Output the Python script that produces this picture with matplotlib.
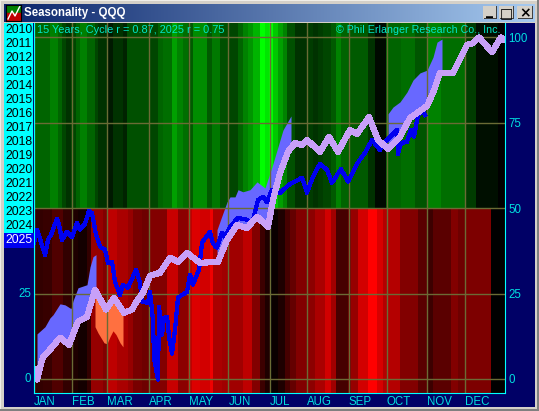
import numpy as np
import matplotlib
matplotlib.use("Agg")
import matplotlib.pyplot as plt
from matplotlib.colors import LinearSegmentedColormap
from matplotlib.patches import Rectangle

plt.rcParams['font.family'] = ['Liberation Sans', 'DejaVu Sans']

W = 539
H = 411

years = [str(y) for y in range(2010, 2026)]
months = ['JAN', 'FEB', 'MAR', 'APR', 'MAY', 'JUN', 'JUL', 'AUG', 'SEP', 'OCT', 'NOV', 'DEC']
month_pos = [0, 37.7, 73.3, 115.3, 154.7, 194.3, 235.5, 273.3, 314.7, 352.7, 393.3, 431.3]

# heat strip above 50 (green) and below 50 (red)
green_edges = [0, 16, 24, 28, 32, 37, 42, 46, 53, 61, 64, 73, 79, 89, 93, 115, 124, 129, 138, 143, 149, 154, 159,
               173, 178, 186, 194, 204, 209, 214, 219, 226, 231, 235, 239, 244, 249, 253, 261, 273, 279, 284, 289,
               297, 302, 307, 314, 334, 341, 352, 367, 381, 393, 407, 431, 442, 464, 471]
green_vals = [100, 128, 100, 70, 50, 70, 100, 128, 100, 70, 50, 25, 50, 35, 80, 70, 100, 110, 160, 130, 110, 90,
              140, 90, 120, 80, 70, 100, 130, 150, 180, 255, 230, 255, 200, 160, 130, 80, 50, 60, 50, 60, 70,
              90, 130, 100, 90, 50, 10, 100, 110, 85, 130, 110, 60, 15, 0]
red_edges = [0, 9, 18, 29, 37, 44, 53, 57, 69, 73, 83, 94, 99, 108, 115, 133, 144, 154, 158, 166, 176, 179, 188,
             209, 218, 226, 231, 236, 238, 244, 251, 256, 262, 273, 281, 291, 297, 302, 314, 317, 324, 334, 343,
             349, 366, 384, 393, 399, 417, 424, 431, 457, 471]
red_vals = [50, 55, 80, 50, 30, 20, 50, 150, 130, 190, 170, 150, 120, 110, 130, 200, 140, 190, 220, 210, 240, 170,
            160, 190, 130, 60, 30, 0, 10, 30, 70, 100, 130, 140, 170, 210, 160, 70, 110, 150, 210, 255, 215,
            180, 130, 90, 60, 90, 130, 110, 125, 0]

# seasonal cycle
cycle_x = [0, 3, 6, 9, 16, 26, 35, 44, 53, 61, 72, 80, 90, 98, 103, 109, 116, 126, 136, 144, 153, 166, 184, 193, 203,
           213, 223, 234, 239, 246, 254, 261, 268, 273, 286, 295, 304, 316, 323, 335, 344, 354, 366, 376, 393, 399,
           406, 419, 433, 439, 445, 458, 467, 471]
cycle_y = [3.6, -0.2, 3.3, 6.5, 8.6, 12.1, 10.0, 16.8, 18.2, 26.1, 20.3, 23.8, 19.4, 20.3, 22.9, 25.2, 30.2, 31.1,
           35.5, 34.3, 36.9, 34.0, 34.3, 40.7, 45.1, 44.2, 47.5, 44.5, 52.4, 60.3, 66.5, 69.1, 68.5, 70.0, 66.5, 70.9,
           66.5, 72.9, 71.7, 76.7, 70.0, 67.3, 70.9, 76.4, 79.9, 83.7, 89.6, 89.6, 97.8, 98.3, 100, 95.7, 100, 98.9]

# 2025 so far
ytd_x = [0, 3, 7, 11, 14, 17, 23, 25, 28, 33, 38, 43, 46, 51, 55, 58, 62, 66, 71, 74, 78, 81, 86, 89, 94, 102, 106,
         108, 114, 116, 119, 120, 124, 125, 128, 130, 133, 135, 138, 141, 144, 153, 156, 159, 165, 168, 176, 179,
         183, 188, 191, 196, 204, 213, 218, 224, 229, 233, 238, 246, 256, 268, 273, 279, 286, 293, 298, 307, 314,
         323, 331, 338, 346, 353, 363, 364, 367, 373, 377, 380, 384, 389, 391]
ytd_y = [39.9, 43.7, 40.1, 36.3, 40.7, 42.2, 46.9, 45.1, 40.7, 43.1, 41.6, 45.7, 43.7, 45.4, 49.2, 48.6, 42.2, 38.7,
         37.8, 34.0, 34.3, 28.5, 24.6, 27.6, 26.7, 32.0, 28.2, 22.6, 22.3, 25.5, 17.3, 6.2, -0.2, 21.1, 13.0, 17.9,
         18.2, 12.4, 7.4, 14.4, 23.8, 25.5, 30.5, 27.6, 32.0, 39.9, 43.1, 39.6, 38.4, 42.8, 41.6, 44.5, 47.2, 46.6,
         45.4, 52.4, 53.3, 51.8, 55.4, 54.5, 57.1, 58.9, 54.5, 59.2, 63.0, 61.2, 57.4, 61.5, 57.7, 63.0, 66.2, 70.0,
         67.0, 70.0, 72.9, 65.9, 69.1, 69.4, 72.9, 70.9, 77.3, 78.2, 77.3]

# blue bands (stronger than cycle) and orange band (weaker)
band1_x = [3, 11, 16, 19, 26, 31, 37, 39, 44, 53, 56, 59, 62]
band1_hi = [13.2, 15.3, 17.9, 18.8, 22.0, 21.7, 20.6, 22.9, 26.7, 27.6, 32.8, 35.8, 36.4]
band1_lo = [2.7, 6.5, 8.6, 9.4, 12.1, 10.9, 11.5, 13.0, 16.8, 18.2, 21.7, 24.4, 26.1]
band2_x = [183, 189, 193, 196, 201, 204, 209, 216, 223, 231, 238, 243, 249, 257]
band2_hi = [43.7, 48.6, 51.8, 53.3, 53.3, 55.4, 54.8, 55.4, 57.7, 55.9, 62.1, 67.0, 72.9, 77.0]
band2_lo = [34.3, 38.1, 40.7, 42.2, 44.2, 45.1, 44.5, 46.0, 47.5, 45.4, 51.0, 55.9, 62.7, 67.6]
band3_x = [354, 359, 366, 373, 379, 386, 393, 399, 403, 408]
band3_hi = [77.6, 79.6, 81.1, 84.0, 87.5, 89.6, 90.4, 94.2, 98.6, 99.5]
band3_lo = [67.3, 69.1, 70.9, 74.6, 77.9, 78.7, 79.9, 83.7, 87.5, 89.6]
orange_x = [61, 64, 70, 73, 76, 79, 82, 86, 89]
orange_hi = [26.1, 24.4, 21.1, 20.3, 22.0, 23.5, 22.6, 21.1, 19.7]
orange_lo = [15.3, 13.5, 10.6, 10.3, 12.4, 14.1, 13.0, 10.6, 9.4]

y_ticks = [0, 25, 50, 75, 100]

NAVY = '#000066'
CYAN = '#00FFFF'
TEAL = '#00E6C8'
LABEL = '#00E0E0'
GRID = '#6B6B35'
GREY = '#D4D0C8'


def px_rect(x0, y0, x1, y1, color, z=0):
    fig.add_artist(Rectangle((x0 / W, 1 - y1 / H), (x1 - x0) / W, (y1 - y0) / H, transform=fig.transFigure,
                             facecolor=color, edgecolor='none', zorder=z))


def px_text(x, y, s, **kw):
    fig.text(x / W, 1 - y / H, s, **kw)


fig = plt.figure(figsize=(W / 100, H / 100), dpi=100, facecolor=GREY)

# window frame
px_rect(4, 23, 535, 407, NAVY)
px_rect(0, 0, 539, 1, '#F0EEE8')
px_rect(0, 0, 1, 411, '#F0EEE8')
px_rect(537, 0, 539, 411, '#808080')
px_rect(0, 409, 539, 411, '#808080')

bar = fig.add_axes([4 / W, 1 - 22 / H, 531 / W, 18 / H])
grad = LinearSegmentedColormap.from_list('title', ['#0A246A', '#A6CAF0'])
bar.imshow(np.linspace(0, 1, 256).reshape(1, -1), aspect='auto', cmap=grad)
bar.axis('off')

icon = fig.add_axes([6 / W, 1 - 21 / H, 15 / W, 16 / H])
icon.set_xlim(0, 15)
icon.set_ylim(0, 16)
icon.add_patch(Rectangle((0, 8), 15, 8, color='#008000'))
icon.add_patch(Rectangle((0, 0), 15, 8, color='#C00000'))
icon.plot([2, 6, 9, 14], [2, 10, 5, 15], color='white', lw=1)
icon.set_xticks([])
icon.set_yticks([])
for s in icon.spines.values():
    s.set_color('black')

px_text(24, 13, 'Seasonality - QQQ', color='white', fontsize=8.3, fontweight='bold', va='center', zorder=5)

for x0, x1, glyph in [(483, 497, '_'), (499, 514, '□'), (517, 533, '×')]:
    px_rect(x0, 6, x1, 19, GREY, 5)
    px_rect(x0 + 1, 18, x1, 19, '#404040', 6)
    px_rect(x1 - 1, 6, x1, 19, '#404040', 6)
    px_text((x0 + x1) / 2, 11 if glyph == '_' else 13, glyph, color='black', fontsize=10, fontweight='bold',
            ha='center', va='center', family='DejaVu Sans', zorder=7)

# year list
px_rect(4, 23, 33, 233, CYAN, 1)
px_rect(4, 233, 34, 248, '#0000F0', 1)
for i, yr in enumerate(years):
    px_text(19, 30 + i * 14, yr, color='white' if yr == '2025' else 'black', fontsize=8.8,
            ha='center', va='center', zorder=5)

# main chart
ax = fig.add_axes([34 / W, 1 - 393 / H, 471 / W, 370 / H], facecolor='black')
ax.set_xlim(0, 471)
ax.set_ylim(-4.1, 104.2)

green_map = LinearSegmentedColormap.from_list('g', ['black', '#00FF00'])
red_map = LinearSegmentedColormap.from_list('r', ['black', '#FF0000'])
ax.pcolormesh(green_edges, [50, 104.2], [green_vals], cmap=green_map, vmin=0, vmax=255, zorder=1, antialiased=False)
ax.pcolormesh(red_edges, [-4.1, 50], [red_vals], cmap=red_map, vmin=0, vmax=255, zorder=1, antialiased=False)

for bx, hi, lo in [(band1_x, band1_hi, band1_lo), (band2_x, band2_hi, band2_lo), (band3_x, band3_hi, band3_lo)]:
    ax.fill_between(bx, lo, hi, color='#6868FF', lw=0, zorder=2, antialiased=False)
ax.fill_between(orange_x, orange_lo, orange_hi, color='#FF7040', lw=0, zorder=2, antialiased=False)

ax.plot(ytd_x, ytd_y, color='#0000F0', lw=2.3, zorder=4, antialiased=False)
ax.plot(cycle_x, cycle_y, color='#C8A0F8', lw=3.7, zorder=5, antialiased=False, solid_capstyle='butt')

ax.set_xticks(month_pos)
ax.set_xticklabels(months, ha='left')
ax.set_yticks(y_ticks)
ax.set_axisbelow(False)
ax.grid(color=GRID, lw=1)
ax.tick_params(length=0, colors=LABEL, labelsize=8.3, labelleft=False, labelright=True, pad=2.5)
for s in ['left', 'right', 'bottom']:
    ax.spines[s].set_color(CYAN)
    ax.spines[s].set_zorder(6)
ax.spines['top'].set_visible(False)

ax.text(-3, 25, '25', color=LABEL, fontsize=8.3, ha='right', va='center', clip_on=False)
ax.text(-3, 0, '0', color=LABEL, fontsize=8.3, ha='right', va='center', clip_on=False)

ax.text(3, 102.1, '15 Years, Cycle r = 0.87, 2025 r = 0.75', color=TEAL, fontsize=7.9, va='center', zorder=7)
ax.text(467, 102.1, '© Phil Erlanger Research Co., Inc.', color=TEAL, fontsize=7.7, va='center', ha='right', zorder=7)

fig.savefig('out.png', dpi=100, facecolor=GREY)
